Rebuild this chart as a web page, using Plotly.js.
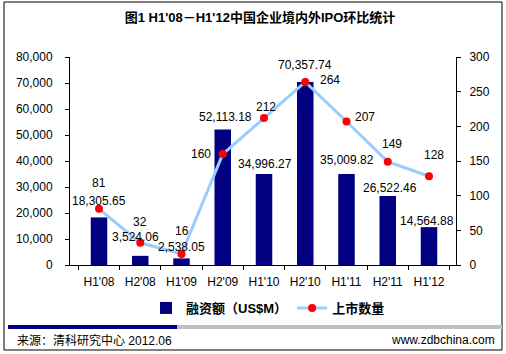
<!DOCTYPE html>
<html><head><meta charset="utf-8">
<script src="https://cdn.plot.ly/plotly-3.0.1.min.js"></script>
<style>html,body{margin:0;padding:0;background:#fff}#c{width:506px;height:354px}</style>
</head><body><div id="c"></div>
<script>
const categories = ["H1'08","H2'08","H1'09","H2'09","H1'10","H2'10","H1'11","H2'11","H1'12"];
const funds = [18305.65, 3524.06, 2538.05, 52113.18, 34996.27, 70357.74, 35009.82, 26522.46, 14564.88];
const counts = [81, 32, 16, 160, 212, 264, 207, 149, 128];
const fundsName = "融资额（US$M）";
const countsName = "上市数量";

// label offsets (style only)
const barLabelShift = [16, 19, 11, 13, 10, 17, 14, 8, 6];
const barLabelXShift = [0, -5, 0, 3, 1, 0, 0, 2, -2];
const lineLabelX = [0, 0, 0, -22, 2, 25, 18, 4, 5];
const lineLabelY = [26, 21, 23, 0, 11, 2, 4, 18, 21];

const FONT = "Liberation Sans, Arial, Noto Sans CJK SC, sans-serif";
const L = 70, R = 50, T = 57, B = 89, W = 506, H = 354;
const pw = W - L - R, ph = H - T - B;
const px = x => (x - L) / pw;
const py = y => (H - B - y) / ph;

const fmt = v => v.toLocaleString('en-US', {minimumFractionDigits: 2, maximumFractionDigits: 2});

const annotations = [];
categories.forEach((c, i) => {
  annotations.push({x: c, y: funds[i], xref: 'x', yref: 'y', text: fmt(funds[i]), showarrow: false,
    yanchor: 'middle', xanchor: 'center', yshift: barLabelShift[i], xshift: barLabelXShift[i],
    font: {family: FONT, size: 12, color: '#000'}});
  annotations.push({x: c, y: counts[i], xref: 'x', yref: 'y2', text: String(counts[i]), showarrow: false,
    yanchor: 'middle', xanchor: 'center', yshift: lineLabelY[i], xshift: lineLabelX[i],
    font: {family: FONT, size: 12, color: '#000'}});
});
annotations.push({xref: 'paper', yref: 'paper', x: px(15), y: py(340), xanchor: 'left', yanchor: 'middle',
  text: "来源：清科研究中心 2012.06", showarrow: false, font: {family: FONT, size: 12, color: '#000'}});
annotations.push({xref: 'paper', yref: 'paper', x: px(497), y: py(340), xanchor: 'right', yanchor: 'middle',
  text: "www.zdbchina.com", showarrow: false, font: {family: FONT, size: 12, color: '#000'}});

const shapes = [
  {type: 'rect', xref: 'paper', yref: 'paper', x0: px(4), x1: px(502), y0: py(350), y1: py(2),
    line: {color: '#000', width: 1}},
  {type: 'rect', xref: 'paper', yref: 'paper', x0: px(177), x1: px(502), y0: py(329), y1: py(325),
    line: {width: 0}, fillcolor: '#c0c0c0'},
  {type: 'rect', xref: 'paper', yref: 'paper', x0: px(8), x1: px(177), y0: py(329), y1: py(325),
    line: {width: 0}, fillcolor: '#000080'}
];

const data = [
  {type: 'bar', x: categories, y: funds, name: fundsName, marker: {color: '#000080'}, yaxis: 'y'},
  {type: 'scatter', mode: 'lines+markers', x: categories, y: counts, name: countsName, yaxis: 'y2',
    line: {color: '#99ccff', width: 3}, marker: {color: '#ff0000', size: 8, symbol: 'circle'}}
];

const layout = {
  width: W, height: H,
  margin: {l: L, r: R, t: T, b: B},
  paper_bgcolor: '#fff', plot_bgcolor: '#fff',
  font: {family: FONT, size: 12, color: '#000'},
  title: {text: "<b>图1 H1'08－H1'12中国企业境内外IPO环比统计</b>", x: 260 / W, xref: 'container', xanchor: 'center',
    y: 1 - 17 / H, yref: 'container', yanchor: 'middle', font: {family: FONT, size: 13, color: '#000'}},
  bargap: 0.6,
  showlegend: true,
  legend: {orientation: 'h', x: px(268), y: py(308), xanchor: 'center', yanchor: 'middle',
    font: {family: FONT, size: 13, color: '#000', weight: 'bold'}, itemwidth: 30, traceorder: 'normal'},
  xaxis: {type: 'category', showline: true, linecolor: '#000', linewidth: 1, ticks: 'outside', ticklen: 4,
    tickcolor: '#000', tickson: 'boundaries', showgrid: false, ticklabelstandoff: 6,
    tickfont: {family: FONT, size: 12, color: '#000'}},
  yaxis: {range: [0, 80000], dtick: 10000, tickformat: ',', showline: true, linecolor: '#000', linewidth: 1,
    ticks: 'outside', ticklen: 4, tickcolor: '#000', showgrid: false, zeroline: false, ticklabelstandoff: 10,
    tickfont: {family: FONT, size: 12, color: '#000'}},
  yaxis2: {range: [0, 300], dtick: 50, overlaying: 'y', side: 'right', showline: true, linecolor: '#000',
    linewidth: 1, ticks: 'outside', ticklen: 4, tickcolor: '#000', showgrid: false, zeroline: false,
    ticklabelstandoff: 6, tickfont: {family: FONT, size: 12, color: '#000'}},
  annotations: annotations,
  shapes: shapes
};

Plotly.newPlot('c', data, layout, {displayModeBar: false, staticPlot: true});
</script>
</body></html>
